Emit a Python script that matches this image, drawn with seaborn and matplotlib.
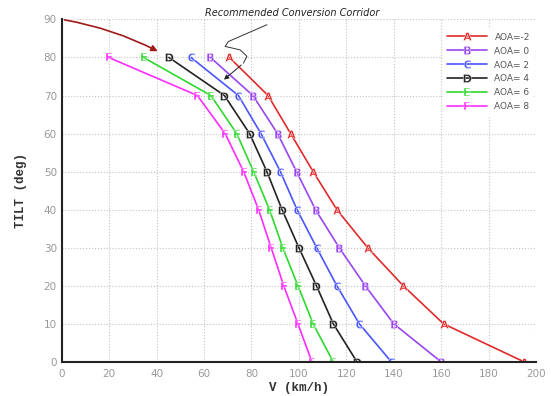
import pandas as pd
import matplotlib
matplotlib.use("Agg")
import matplotlib.pyplot as plt
import seaborn as sns

# Dados
tilt = [0, 10, 20, 30, 40, 50, 60, 70, 80]
v_aoa_m2 = [195, 161, 144, 129, 116, 106, 96.5, 87, 70.7]
v_aoa_0 = [160, 140, 128, 117, 107, 99, 91, 80.6, 62.7]
v_aoa_2 = [139, 125.5, 116, 107.5, 99.2, 92.2, 84, 74.5, 54.5]
v_aoa_4 = [124.5, 114.5, 107.4, 100, 92.9, 86.5, 79.2, 68.6, 45.2]
v_aoa_6 = [114.5, 106, 99.6, 93.2, 87.6, 80.9, 73.8, 62.9, 34.5]
v_aoa_8 = [105.5, 99.6, 93.6, 88.3, 83, 76.7, 68.9, 57.2, 19.8]

rotulos = ["AOA=-2", "AOA= 0", "AOA= 2", "AOA= 4", "AOA= 6", "AOA= 8"]
cores = ["#e02a2a", "#9a45f0", "#4a55ff", "#222222", "#2ed82e", "#ff2bff"]
letras = [r"$\mathbf{A}$", r"$\mathbf{B}$", r"$\mathbf{C}$",
          r"$\mathbf{D}$", r"$\mathbf{E}$", r"$\mathbf{F}$"]

# Seta de transição e o traço do corredor recomendado
seta_inicio = (0, 90)
seta_fim = (41.5, 81.3)
corredor_v = [86.5, 70.3, 68.9, 75.2, 78.1, 76.6]
corredor_tilt = [88.6, 84.2, 82.9, 82.0, 80.3, 78.5]
corredor_fim = (67.5, 73.7)

series = [v_aoa_m2, v_aoa_0, v_aoa_2, v_aoa_4, v_aoa_6, v_aoa_8]
df = pd.concat(
    [pd.DataFrame({"V": v, "TILT": tilt, "AOA": r}) for v, r in zip(series, rotulos)],
    ignore_index=True,
)

sns.set_style("white")
fig = plt.figure(figsize=(5.51, 3.96), dpi=100)
ax = fig.add_axes([0.112, 0.086, 0.861, 0.865])

sns.lineplot(data=df, x="V", y="TILT", hue="AOA", style="AOA",
             palette=dict(zip(rotulos, cores)),
             markers=dict(zip(rotulos, letras)), dashes=False,
             linewidth=1.2, markersize=6, markeredgewidth=0.3,
             sort=False, estimator=None, ax=ax)

ax.annotate("", xy=seta_fim, xytext=seta_inicio,
            arrowprops=dict(arrowstyle="-|>", color="#a01818", lw=1.2,
                            connectionstyle="arc3,rad=-0.08", mutation_scale=9))

ax.plot(corredor_v, corredor_tilt, color="#333333", lw=0.7, clip_on=False)
ax.annotate("", xy=corredor_fim, xytext=(corredor_v[-1], corredor_tilt[-1]),
            arrowprops=dict(arrowstyle="-|>", color="#222222", lw=0.7,
                            mutation_scale=7), annotation_clip=False)
ax.text(97, 91.8, "Recommended Conversion Corridor", ha="center", va="center",
        fontsize=7, style="italic", color="#222222", clip_on=False)

ax.set_xlim(0, 200)
ax.set_ylim(0, 90)
ax.set_xticks(range(0, 201, 20))
ax.set_yticks(range(0, 91, 10))
ax.set_xticks(range(0, 201, 4), minor=True)
ax.set_yticks(range(0, 91, 2), minor=True)
ax.tick_params(axis="both", which="major", direction="in", length=5, width=1.2,
               colors="#222222", labelcolor="#999999", labelsize=7.5)
ax.tick_params(axis="both", which="minor", direction="in", length=2.5, width=0.8,
               colors="#222222")
ax.tick_params(axis="x", pad=5)
ax.grid(True, which="major", linestyle=":", color="#c4c4c4", linewidth=0.8)

for lado in ["top", "right"]:
    ax.spines[lado].set_visible(False)
for lado in ["left", "bottom"]:
    ax.spines[lado].set_linewidth(1.5)
    ax.spines[lado].set_color("#222222")

ax.set_xlabel("V (km/h)", fontsize=9, fontweight="bold",
              family="Liberation Mono", color="#333333", labelpad=2)
ax.set_ylabel("TILT (deg)", fontsize=9, fontweight="bold",
              family="Liberation Mono", color="#333333", labelpad=12)

handles, labels = ax.get_legend_handles_labels()
leg = ax.legend(handles, labels, loc="upper right", bbox_to_anchor=(1.0, 0.98),
                fontsize=6.5, frameon=True, framealpha=1, edgecolor="white",
                handlelength=4.5, labelspacing=0.55, borderaxespad=0.3)
for t in leg.get_texts():
    t.set_color("#555555")

fig.savefig("out.png", dpi=100)
